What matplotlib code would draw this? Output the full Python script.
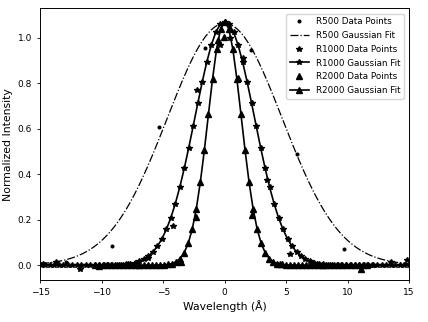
import numpy as np
import matplotlib
matplotlib.use("Agg")
import matplotlib.pyplot as plt

# Gaussian fit parameters: amplitude, centre, sigma
r500_fit = (1.062, 0.0, 4.68)
r1000_fit = (1.07, 0.0, 2.42)
r2000_fit = (1.07, 0.0, 1.35)

# sampling grids of the fitted curves (start, stop, step)
r1000_grid = (-15.33, 15.4, 0.365)
r2000_grid = (-10.56, 11.7, 0.33)

# data points
r500_x = [-12.9, -9.13, -5.37, -1.57, 2.17, 5.91, 9.70, 13.45]
r500_y = [0.012, 0.083, 0.608, 0.956, 0.944, 0.488, 0.069, 0.015]

r1000_x = [-14.8, -13.7, -11.8, -9.6, -7.9, -6.2, -4.17, -2.25, -0.41, 0.41,
           1.52, 3.46, 5.34, 7.5, 9.9, 12.0, 13.5, 14.8]
r1000_y = [0.004, 0.012, -0.015, 0.002, 0.006, 0.03, 0.174, 0.768, 0.966, 1.0,
           0.908, 0.376, 0.048, 0.003, -0.004, 0.002, 0.015, 0.022]

r2000_x = [-10.2, -7.0, -3.52, -2.34, -0.54, -0.07, 1.1, 2.24, 4.5, 8.0, 11.06]
r2000_y = [-0.006, 0.0, 0.015, 0.21, 0.99, 1.003, 0.82, 0.22, 0.004, 0.0, -0.015]

xticks = [-15, -10, -5, 0, 5, 10, 15]


def gauss(x, p):
    a, c, s = p
    return a * np.exp(-(x - c) ** 2 / (2 * s ** 2))


fig = plt.figure(figsize=(4.28, 3.22), dpi=100)
ax = fig.add_axes([0.094, 0.130, 0.862, 0.844])

xf = np.linspace(-16, 16, 600)
g1 = np.arange(*r1000_grid)
g2 = np.arange(*r2000_grid)

ax.plot(r500_x, r500_y, 'k.', ms=3.8, lw=0, label='R500 Data Points')
ax.plot(xf, gauss(xf, r500_fit), 'k-.', lw=0.9, label='R500 Gaussian Fit')
ax.plot(r1000_x, r1000_y, 'k*', ms=3.8, lw=0, label='R1000 Data Points')
ax.plot(g1, gauss(g1, r1000_fit), 'k-*', ms=3.8, lw=1.2, label='R1000 Gaussian Fit')
ax.plot(r2000_x, r2000_y, 'k^', ms=3.8, lw=0, label='R2000 Data Points')
ax.plot(g2, gauss(g2, r2000_fit), 'k-^', ms=3.8, lw=1.2, label='R2000 Gaussian Fit')

ax.set_xlim(-15, 15)
ax.set_ylim(-0.066, 1.128)
ax.set_xticks(xticks)
ax.tick_params(labelsize=6.5, length=2.5, width=0.6)
for s in ax.spines.values():
    s.set_linewidth(0.7)
ax.set_xlabel('Wavelength (Å)', fontsize=7.8, labelpad=2)
ax.set_ylabel('Normalized Intensity', fontsize=7.8, labelpad=3)
ax.legend(loc='upper right', fontsize=6.3, frameon=True, handlelength=2.2,
          borderaxespad=0.6, labelspacing=0.55)

fig.savefig('out.png', dpi=100)
